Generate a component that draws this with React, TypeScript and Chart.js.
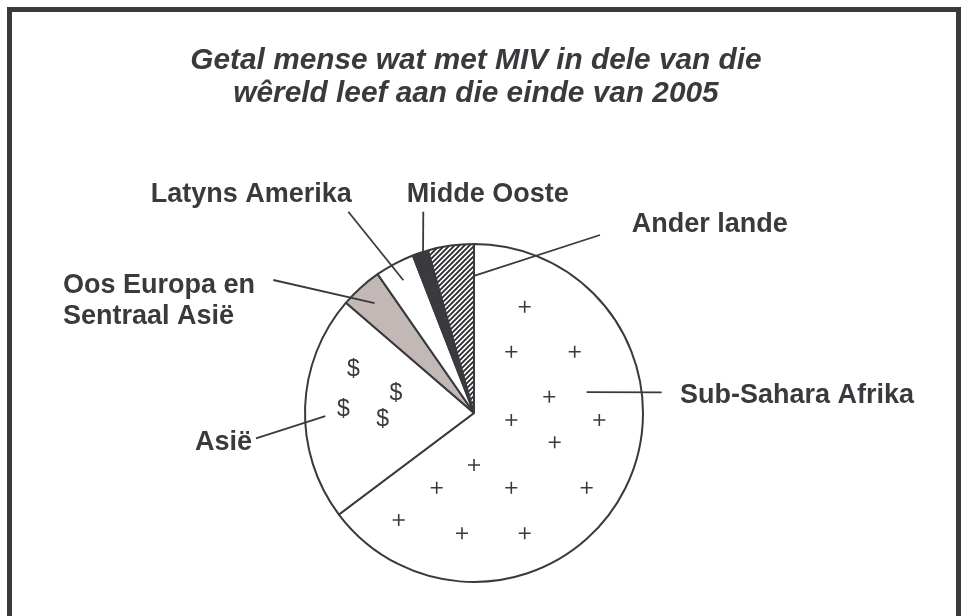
import React, { useEffect, useRef } from 'react';
import { Chart, registerables } from 'chart.js';

Chart.register(...registerables);

// ---- data ----
const categories: string[][] = [
  ['Sub-Sahara Afrika'],
  ['Asië'],
  ['Oos Europa en', 'Sentraal Asië'],
  ['Latyns Amerika'],
  ['Midde Ooste'],
  ['Ander lande'],
];
const peopleMillions = [25.8, 8.6, 1.6, 1.5, 0.6, 1.75];
const titleLines = ['Getal mense wat met MIV in dele van die', 'wêreld leef aan die einde van 2005'];

// ---- styling / layout ----
const INK = '#3a3a3e';
const FONT = '"Liberation Sans", Arial, Helvetica, sans-serif';

// leader line anchor (fraction along slice angle, fraction of radius) and label placement
const LABEL_LAYOUT = [
  { at: 0.341, r: 0.678, ex: 661.7, ey: 392.3, tx: 680, ty: 402.7 },
  { at: 0.46, r: 0.88, ex: 256, ey: 438.3, tx: 195, ty: 450 },
  { at: 0.49, r: 0.877, ex: 273.3, ey: 280, tx: 63, ty: 293 },
  { at: 0.5, r: 0.89, ex: 348.3, ey: 211.7, tx: 150.7, ty: 202 },
  { at: 0.68, r: 1.0, ex: 423.3, ey: 211.7, tx: 406.7, ty: 202 },
  { at: 0.98, r: 0.81, ex: 600, ey: 235, tx: 631.7, ty: 232 },
];

// texture glyph offsets for the pattern tiles
const PLUS_TILE = 360;
const PLUS_SPOTS: [number, number][] = [
  [524.7, 306.7], [511.3, 351.7], [574.7, 351.7], [549.3, 396.7], [511.3, 420],
  [599.3, 420], [554.7, 442.3], [474, 465], [436.7, 487.7], [511.3, 487.7],
  [586.7, 487.7], [398.7, 520], [462, 533.3], [524.7, 533.3],
];
const DOLLAR_TILE = 360;
const DOLLAR_SPOTS: [number, number][] = [
  [353.3, 370], [396, 393.3], [343.3, 410], [382.7, 420],
];

function glyphPattern(
  ctx: CanvasRenderingContext2D,
  size: number,
  spots: [number, number][],
  draw: (g: CanvasRenderingContext2D, x: number, y: number) => void
) {
  const c = document.createElement('canvas');
  c.width = size;
  c.height = size;
  const g = c.getContext('2d')!;
  g.fillStyle = '#ffffff';
  g.fillRect(0, 0, size, size);
  for (const [sx, sy] of spots) {
    const bx = ((sx % size) + size) % size;
    const by = ((sy % size) + size) % size;
    for (const dx of [-size, 0, size]) {
      for (const dy of [-size, 0, size]) {
        draw(g, bx + dx, by + dy);
      }
    }
  }
  return ctx.createPattern(c, 'repeat')!;
}

function hatchPattern(ctx: CanvasRenderingContext2D) {
  const p = 5;
  const c = document.createElement('canvas');
  c.width = p;
  c.height = p;
  const g = c.getContext('2d')!;
  g.fillStyle = '#ffffff';
  g.fillRect(0, 0, p, p);
  g.strokeStyle = '#2f2f33';
  g.lineWidth = 1.9;
  g.beginPath();
  g.moveTo(-1, p + 1);
  g.lineTo(p + 1, -1);
  g.moveTo(-1, 1);
  g.lineTo(1, -1);
  g.moveTo(p - 1, p + 1);
  g.lineTo(p + 1, p - 1);
  g.stroke();
  return ctx.createPattern(c, 'repeat')!;
}

const labelPlugin = {
  id: 'sliceLabels',
  afterDatasetsDraw(chart: any) {
    const ctx: CanvasRenderingContext2D = chart.ctx;
    const meta = chart.getDatasetMeta(0);
    ctx.save();
    // title
    ctx.fillStyle = INK;
    ctx.textAlign = 'center';
    ctx.textBaseline = 'alphabetic';
    ctx.font = `italic bold 29.8px ${FONT}`;
    const titleBase = [69, 101.7];
    titleLines.forEach((t, i) => ctx.fillText(t, 476, titleBase[i]));

    // leader lines and labels
    ctx.strokeStyle = INK;
    ctx.lineWidth = 1.8;
    ctx.font = `bold 27px ${FONT}`;
    ctx.textAlign = 'left';
    meta.data.forEach((arc: any, i: number) => {
      const { x, y, startAngle, endAngle, outerRadius } = arc.getProps(
        ['x', 'y', 'startAngle', 'endAngle', 'outerRadius'],
        true
      );
      const L = LABEL_LAYOUT[i];
      const a = startAngle + (endAngle - startAngle) * L.at;
      const r = outerRadius * L.r;
      const px = x + Math.cos(a) * r;
      const py = y + Math.sin(a) * r;
      ctx.beginPath();
      ctx.moveTo(px, py);
      ctx.lineTo(L.ex, L.ey);
      ctx.stroke();
      const lines = chart.data.labels[i] as string[];
      lines.forEach((ln: string, k: number) => ctx.fillText(ln, L.tx, L.ty + k * 31));
    });
    ctx.restore();
  },
};

export default function App() {
  const ref = useRef<HTMLCanvasElement | null>(null);

  useEffect(() => {
    const canvas = ref.current!;
    const ctx = canvas.getContext('2d')!;
    const plus = glyphPattern(ctx, PLUS_TILE, PLUS_SPOTS, (g, x, y) => {
      g.strokeStyle = INK;
      g.lineWidth = 1.6;
      g.beginPath();
      g.moveTo(x - 6, y);
      g.lineTo(x + 6, y);
      g.moveTo(x, y - 6);
      g.lineTo(x, y + 6);
      g.stroke();
    });
    const dollar = glyphPattern(ctx, DOLLAR_TILE, DOLLAR_SPOTS, (g, x, y) => {
      g.fillStyle = INK;
      g.font = `23px ${FONT}`;
      g.textAlign = 'center';
      g.textBaseline = 'middle';
      g.fillText('$', x, y);
    });
    const hatch = hatchPattern(ctx);

    const chart = new Chart(canvas, {
      type: 'pie',
      data: {
        labels: categories as any,
        datasets: [
          {
            data: peopleMillions,
            backgroundColor: [plus, dollar, '#c2b9b6', '#ffffff', '#3b3a3f', hatch] as any,
            borderColor: INK,
            borderWidth: 2,
          },
        ],
      },
      options: {
        responsive: false,
        animation: false,
        layout: { padding: { left: 304, right: 322, top: 243, bottom: 33 } },
        plugins: {
          legend: { display: false },
          tooltip: { enabled: false },
          title: { display: false },
        },
      },
      plugins: [labelPlugin],
    });
    return () => chart.destroy();
  }, []);

  return (
    <div
      style={{
        position: 'absolute',
        left: 0,
        top: 0,
        width: 966,
        height: 616,
        overflow: 'hidden',
        background: '#ffffff',
      }}
    >
      <canvas
        ref={ref}
        width={966}
        height={616}
        style={{ position: 'absolute', left: 0, top: 0, width: 966, height: 616 }}
      />
      <div
        style={{
          position: 'absolute',
          left: 7,
          top: 7,
          width: 954,
          height: 700,
          boxSizing: 'border-box',
          borderTop: `5px solid ${INK}`,
          borderLeft: `5px solid ${INK}`,
          borderRight: `5px solid ${INK}`,
          pointerEvents: 'none',
        }}
      />
    </div>
  );
}
